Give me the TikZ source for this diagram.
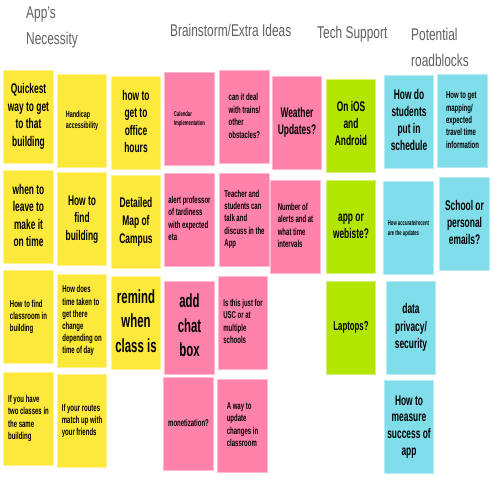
\documentclass[tikz,border=0pt]{standalone}
\usepackage{fontspec}
\usepackage{graphicx}
\setmainfont{Liberation Sans}
\definecolor{nyellow}{HTML}{FDE93B}
\definecolor{npink}{HTML}{FF82AB}
\definecolor{ngreen}{HTML}{B2E600}
\definecolor{nblue}{HTML}{80DEEA}
\definecolor{headgray}{HTML}{606060}
% note text: size, baselineskip, column alignment, lines
\newcommand{\nt}[4]{\scalebox{0.6}[1]{\fontsize{#1pt}{#2pt}\selectfont\bfseries\begin{tabular}{@{}#3@{}}#4\end{tabular}}}
% heading text
\newcommand{\hd}[1]{\scalebox{0.7}[1]{\fontsize{17pt}{25.5pt}\selectfont\begin{tabular}[t]{@{}l@{}}#1\end{tabular}}}
\begin{document}
\begin{tikzpicture}[x=1pt,y=-1pt,
  note/.style={inner sep=0pt, minimum width=49.5pt, minimum height=93pt, line width=0.8pt},
  yel/.style={note, fill=nyellow, draw=nyellow!55!white},
  pnk/.style={note, fill=npink, draw=npink!55!white},
  grn/.style={note, fill=ngreen, draw=ngreen!55!white},
  blu/.style={note, fill=nblue, draw=nblue!55!white},
  head/.style={inner sep=0pt, anchor=base west, text=headgray}]
\useasboundingbox (0,0) rectangle (500,500);
\fill[white] (0,0) rectangle (500,500);
% headings
\node[head] (h1) at (26,19) {\hd{App's\\Necessity}};
\node[head] (h2) at (170,37) {\hd{Brainstorm/Extra Ideas}};
\node[head] (h3) at (317,39) {\hd{Tech Support}};
\node[head] (h4) at (411,41) {\hd{Potential\\roadblocks}};
% yellow column 1
\node[yel] (y1) at (28.5,116.5) {\nt{14}{17.5}{c}{Quickest\\way to get\\to that\\building}};
\node[yel] (y2) at (28.5,217) {\nt{14}{17.5}{c}{when to\\leave to\\make it\\on time}};
\node[yel] (y3) at (28.5,317) {\nt{10}{12.4}{l}{How to find\\classroom in\\building}};
\node[yel] (y4) at (28.5,418.5) {\nt{10}{12.4}{l}{If you have\\two classes in\\the same\\building}};
% yellow column 2
\node[yel] (y5) at (82,120.5) {\nt{9}{11}{l}{Handicap\\accessibility}};
\node[yel] (y6) at (82,219) {\nt{14}{17.5}{c}{How to\\find\\building}};
\node[yel] (y7) at (82,321) {\nt{10}{12.2}{l}{How does\\time taken to\\get there\\change\\depending on\\time of day}};
\node[yel] (y8) at (82,421) {\nt{10}{12.4}{l}{If your routes\\match up with\\your friends}};
% yellow column 3
\node[yel] (y9) at (136,123) {\nt{14}{17.5}{c}{how to\\get to\\office\\hours}};
\node[yel] (y10) at (136,222) {\nt{14}{17.8}{c}{Detailed\\Map of\\Campus}};
\node[yel] (y11) at (136,323) {\nt{19}{24.3}{c}{remind\\when\\class is}};
% pink column 4
\node[pnk] (p1) at (189.5,119) {\nt{7}{9}{l}{Calendar\\Implementation}};
\node[pnk] (p2) at (189.5,219.5) {\nt{10}{12.6}{l}{alert professor\\of tardiness\\with expected\\eta}};
\node[pnk] (p3) at (189.5,327.5) {\nt{19}{24.5}{c}{add\\chat\\box}};
\node[pnk] (p4) at (188.5,424) {\nt{10}{12.4}{c}{monetization?}};
% pink column 5
\node[pnk] (p5) at (244.5,117) {\nt{10}{12.4}{l}{can it deal\\with trains/\\other\\obstacles?}};
\node[pnk] (p6) at (244.5,219.5) {\nt{10}{12.4}{l}{Teacher and\\students can\\talk and\\discuss in the\\App}};
\node[pnk] (p7) at (243,322.5) {\nt{10}{12.4}{l}{Is this just for\\USC or at\\multiple\\schools}};
\node[pnk] (p8) at (242.5,425.5) {\nt{10}{12.4}{l}{A way to\\update\\changes in\\classroom}};
% pink column 6
\node[pnk] (p9) at (297,122.5) {\nt{14}{17}{c}{Weather\\Updates?}};
\node[pnk] (p10) at (295.5,226.5) {\nt{10}{12.6}{l}{Number of\\alerts and at\\what time\\intervals}};
% green column
\node[grn] (g1) at (351,125.5) {\nt{14}{17}{c}{On iOS\\and\\Android}};
\node[grn] (g2) at (351,226.5) {\nt{14}{17}{c}{app or\\webiste?}};
\node[grn] (g3) at (351,327.5) {\nt{13}{16}{c}{Laptops?}};
% blue column 8
\node[blu] (b1) at (409,121.5) {\nt{14}{17}{c}{How do\\students\\put in\\schedule}};
\node[blu] (b2) at (408.5,228) {\nt{7}{10}{l}{How accurate/recent\\are the updates}};
\node[blu] (b3) at (411,327.5) {\nt{14}{17.5}{c}{data\\privacy/\\security}};
\node[blu] (b4) at (409,427) {\nt{14}{16.8}{c}{How to\\measure\\success of\\app}};
% blue column 9
\node[blu] (b5) at (462.5,121) {\nt{10}{12.3}{l}{How to get\\mapping/\\expected\\travel time\\information}};
\node[blu] (b6) at (464.5,224) {\nt{14}{17}{c}{School or\\personal\\emails?}};
\end{tikzpicture}
\end{document}
